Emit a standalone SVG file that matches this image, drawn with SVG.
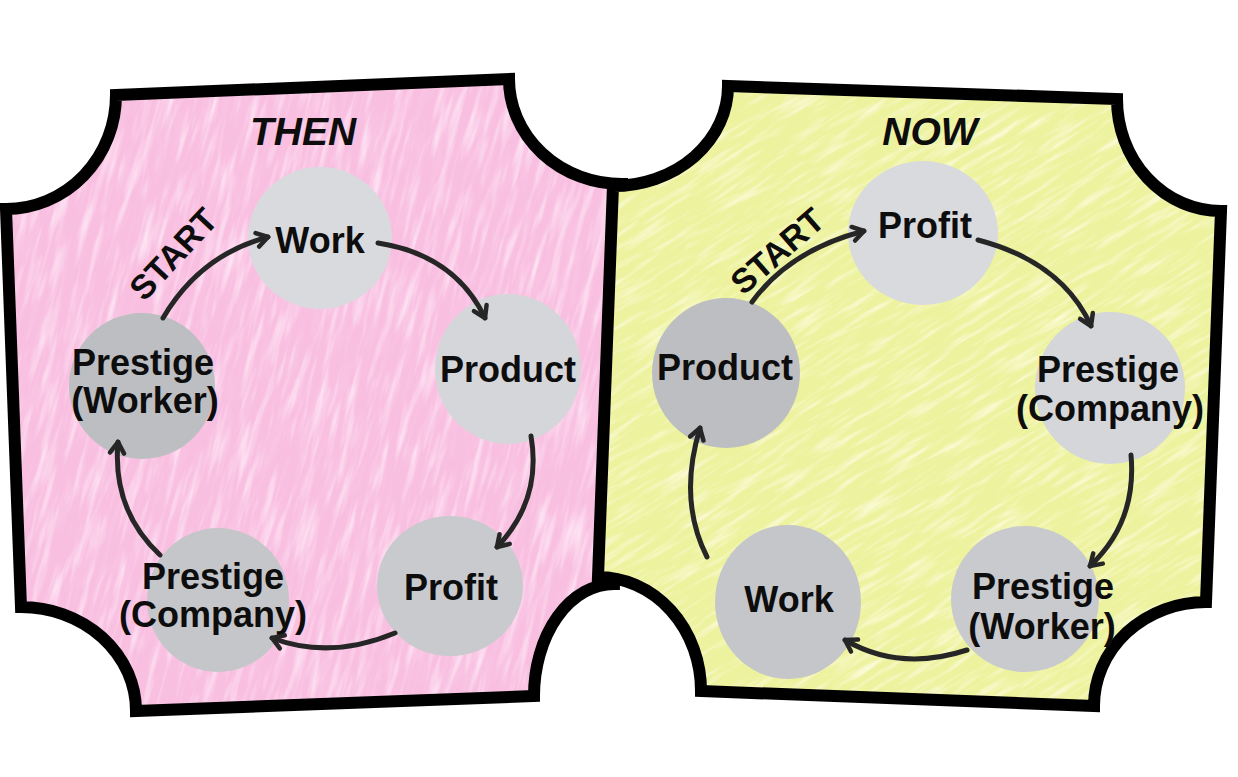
<svg xmlns="http://www.w3.org/2000/svg" width="1238" height="777" viewBox="0 0 1238 777">
<style>
.node text{font-family:"Liberation Sans",Arial,sans-serif;font-weight:bold;font-size:36px;fill:#0d0d0d;text-anchor:middle}
.lbl{font-family:"Liberation Sans",Arial,sans-serif;font-weight:bold;fill:#0d0d0d;text-anchor:middle}
.title{font-style:italic;font-size:39px}
.start{font-size:34px}
.conn path{fill:none;stroke:#262626;stroke-width:5;stroke-linecap:round;marker-end:url(#arr)}
.border{fill:none;stroke:#000;stroke-width:12;stroke-linejoin:miter}
.l1{fill:#d9dadd}.l2{fill:#d5d6d9}.m1{fill:#c9cacd}.m2{fill:#c5c6c9}.d1{fill:#bdbec2}
</style>
<defs>
<path id="pinkShape" d="M116,95 L509,79 A113,105 0 0 0 622,184 L614,584 A80,112 0 0 0 534,696 L136,711 A115,104 0 0 0 21,607 L6,209 A110,114 0 0 0 116,95 Z"/>
<path id="yellowShape" d="M728,86 L1117,99 A104,112 0 0 0 1221,211 L1206,602 A112,104 0 0 0 1094,706 L701,691 A103,114 0 0 0 598,577 L613,186 A115,100 0 0 0 728,86 Z"/>
<clipPath id="clipPink"><use href="#pinkShape"/></clipPath>
<clipPath id="clipYellow"><use href="#yellowShape"/></clipPath>
<filter id="texPink" x="0" y="0" width="100%" height="100%">
<feTurbulence type="fractalNoise" baseFrequency="0.13 0.016" numOctaves="3" seed="4" result="n"/>
<feColorMatrix in="n" type="matrix" values="0 0 0 0 1  0 0 0 0 0.9  0 0 0 0 0.97  1.8 0 0 0 -0.85" result="w"/>
<feComposite in="w" in2="SourceGraphic" operator="in"/>
</filter>
<filter id="texPinkDark" x="0" y="0" width="100%" height="100%">
<feTurbulence type="fractalNoise" baseFrequency="0.16 0.02" numOctaves="2" seed="11" result="n"/>
<feColorMatrix in="n" type="matrix" values="0 0 0 0 0.95  0 0 0 0 0.6  0 0 0 0 0.8  1.6 0 0 0 -0.85" result="w"/>
<feComposite in="w" in2="SourceGraphic" operator="in"/>
</filter>
<filter id="texYellow" x="0" y="0" width="100%" height="100%">
<feTurbulence type="fractalNoise" baseFrequency="0.02 0.18" numOctaves="3" seed="7" result="n"/>
<feColorMatrix in="n" type="matrix" values="0 0 0 0 1  0 0 0 0 1  0 0 0 0 0.85  1.8 0 0 0 -0.85" result="w"/>
<feComposite in="w" in2="SourceGraphic" operator="in"/>
</filter>
<marker id="arr" viewBox="0 0 20 20" refX="15" refY="10" markerWidth="20" markerHeight="20" markerUnits="userSpaceOnUse" orient="auto">
<path d="M4,3 L15,10 L4,17" fill="none" stroke="#262626" stroke-width="4.5" stroke-linecap="round" stroke-linejoin="round"/>
</marker>
</defs>

<g id="panel-then">
<use href="#pinkShape" fill="#f9bfe1"/>
<g clip-path="url(#clipPink)">
<rect x="-200" y="-100" width="1000" height="1000" fill="#f9bfe1" transform="rotate(15 310 400)" filter="url(#texPinkDark)"/>
<rect x="-200" y="-100" width="1000" height="1000" fill="#f9bfe1" transform="rotate(15 310 400)" filter="url(#texPink)"/>
</g>
<use href="#pinkShape" class="border"/>
<text class="lbl title" x="303" y="145">THEN</text>
<text class="lbl start" transform="translate(182,262) rotate(-47)">START</text>
</g>

<g id="panel-now">
<use href="#yellowShape" fill="#edf29e"/>
<g clip-path="url(#clipYellow)"><rect x="300" y="-200" width="1300" height="1200" fill="#edf29e" transform="rotate(-32 915 400)" filter="url(#texYellow)"/></g>
<use href="#yellowShape" class="border"/>
<text class="lbl title" x="930" y="145">NOW</text>
<text class="lbl start" transform="translate(785,260) rotate(-41)">START</text>
</g>

<g id="then-work" class="node"><ellipse class="l1" cx="320" cy="238" rx="72" ry="71"/><text x="320" y="253">Work</text></g>
<g id="then-product" class="node"><ellipse class="l2" cx="508" cy="369" rx="73" ry="75"/><text x="508" y="382">Product</text></g>
<g id="then-profit" class="node"><ellipse class="m1" cx="450" cy="586" rx="73" ry="70"/><text x="451" y="600">Profit</text></g>
<g id="then-prestige-company" class="node"><ellipse class="m2" cx="218" cy="600" rx="71" ry="72"/><text x="213" y="589">Prestige</text><text x="213" y="627">(Company)</text></g>
<g id="then-prestige-worker" class="node"><ellipse class="d1" cx="142" cy="386" rx="73" ry="73"/><text x="143" y="375">Prestige</text><text x="145" y="413">(Worker)</text></g>

<g id="now-profit" class="node"><ellipse class="l1" cx="923" cy="233" rx="75" ry="72"/><text x="925" y="238">Profit</text></g>
<g id="now-prestige-company" class="node"><ellipse class="l2" cx="1110" cy="388" rx="75" ry="76"/><text x="1108" y="382">Prestige</text><text x="1110" y="421">(Company)</text></g>
<g id="now-prestige-worker" class="node"><ellipse class="m1" cx="1025" cy="599" rx="74" ry="73"/><text x="1043" y="599">Prestige</text><text x="1042" y="639">(Worker)</text></g>
<g id="now-work" class="node"><ellipse class="m2" cx="788" cy="602" rx="73" ry="77"/><text x="789" y="612">Work</text></g>
<g id="now-product" class="node"><ellipse class="d1" cx="726" cy="373" rx="74" ry="75"/><text x="725" y="380">Product</text></g>

<g id="connectors" class="conn">
<path d="M163,318 Q200,255 268,237"/>
<path d="M378,243 Q455,255 485,318"/>
<path d="M531,436 Q542,500 497,547"/>
<path d="M395,633 Q330,660 272,638"/>
<path d="M160,555 Q112,510 118,442"/>
<path d="M752,302 Q790,250 864,231"/>
<path d="M978,240 Q1062,262 1091,326"/>
<path d="M1131,455 Q1137,522 1090,566"/>
<path d="M967,650 Q900,672 845,640"/>
<path d="M707,557 Q678,500 700,428"/>
</g>
</svg>
